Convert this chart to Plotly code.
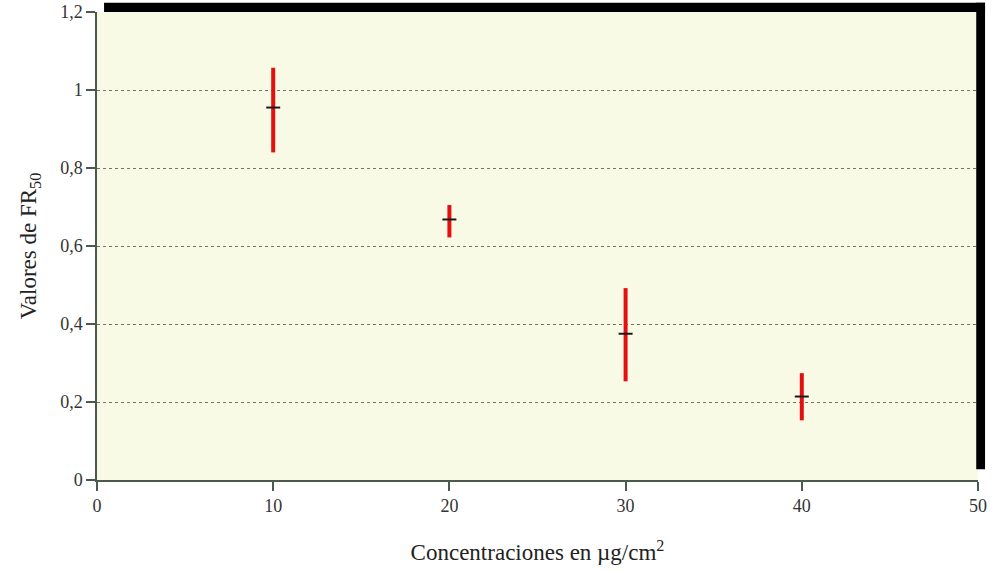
import plotly.graph_objects as go

concentraciones = [10, 20, 30, 40]
fr50_centro = [0.955, 0.668, 0.375, 0.214]
fr50_superior = [1.057, 0.705, 0.492, 0.274]
fr50_inferior = [0.840, 0.622, 0.253, 0.153]

err_plus = [u - c for u, c in zip(fr50_superior, fr50_centro)]
err_minus = [c - l for c, l in zip(fr50_centro, fr50_inferior)]

fig = go.Figure()
fig.add_trace(go.Scatter(
    x=concentraciones, y=fr50_centro, mode="markers",
    marker=dict(symbol="line-ew", size=10, line=dict(color="#1a1a1a", width=2)),
    error_y=dict(type="data", symmetric=False, array=err_plus, arrayminus=err_minus,
                 color="#e3100f", thickness=4, width=0),
    showlegend=False, hoverinfo="skip"))

axis_font = dict(family="Liberation Serif, Times New Roman, serif", size=18, color="#333333")

fig.update_layout(
    width=996, height=572,
    margin=dict(l=97, r=18, t=12, b=92, autoexpand=False),
    paper_bgcolor="white",
    plot_bgcolor="#f9fae5",
    separators=",.",
    font=dict(family="Liberation Serif, Times New Roman, serif", color="#222222"),
    xaxis=dict(range=[0, 50], tickvals=[0, 10, 20, 30, 40, 50], showgrid=False,
               zeroline=False, showline=True, linecolor="#4a5a4e", linewidth=1.5,
               ticks="outside", ticklen=9, tickcolor="#4a5a4e", tickwidth=1.5,
               tickfont=axis_font, automargin=False,
               title=dict(text="Concentraciones en µg/cm<sup>2</sup>", font=dict(size=23, color="#222222"), standoff=29)),
    yaxis=dict(range=[0, 1.2], tickvals=[0, 0.2, 0.4, 0.6, 0.8, 1.0, 1.2],
               showgrid=True, gridcolor="#6f746f", griddash="dot", gridwidth=1.3,
               zeroline=False, showline=True, linecolor="#4a5a4e", linewidth=1.5,
               ticks="outside", ticklen=9, tickcolor="#4a5a4e", tickwidth=1.5,
               tickfont=axis_font, automargin=False,
               title=dict(text="Valores de FR<sub>50</sub>", font=dict(size=23, color="#222222"), standoff=17)),
    shapes=[
        dict(type="rect", xref="paper", yref="paper", x0=0.008, x1=1.008, y0=1.0, y1=1.02,
             fillcolor="black", line=dict(width=0), layer="above"),
        dict(type="rect", xref="paper", yref="paper", x0=0.998, x1=1.008, y0=0.023, y1=1.02,
             fillcolor="black", line=dict(width=0), layer="above"),
    ],
)

fig.write_html("out.html", config={"displayModeBar": False},
               post_script="document.body.style.margin='0';")
